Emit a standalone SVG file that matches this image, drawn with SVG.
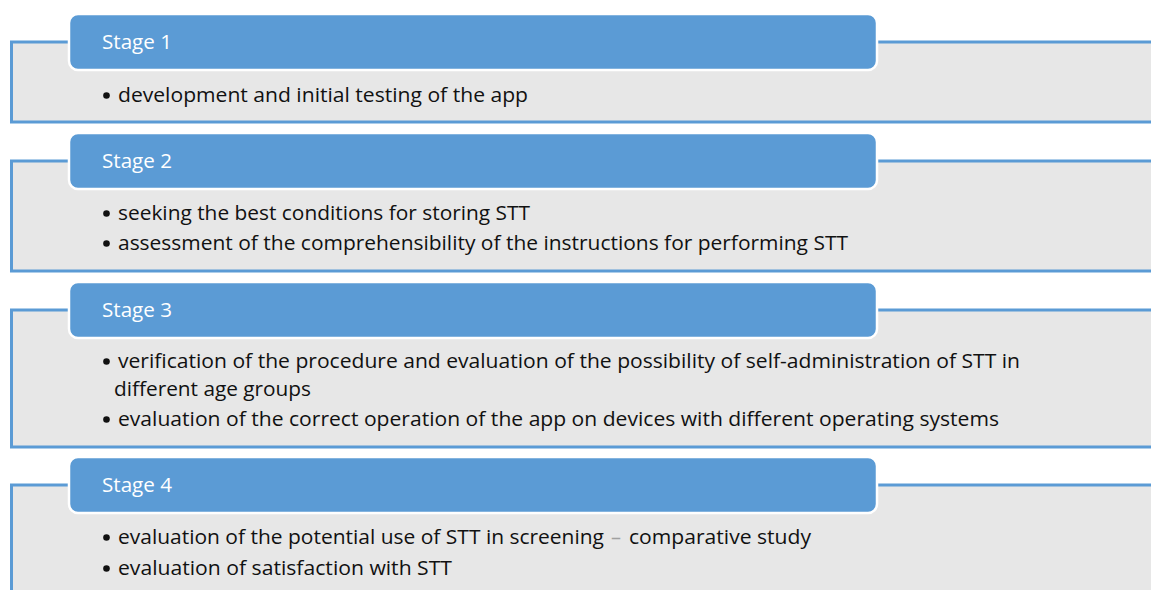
<svg xmlns="http://www.w3.org/2000/svg" width="1151" height="590" viewBox="0 0 1151 590">
<style>
.box{fill:#E7E7E7;stroke:#5B9BD5;stroke-width:3}
.hdr{fill:#5B9BD5;stroke:#FFFFFF;stroke-width:2.5}
.ht{font-family:"Open Sans","Liberation Sans",sans-serif;font-size:20px;fill:#FFFFFF}
.bt{font-family:"Open Sans","Liberation Sans",sans-serif;font-size:20px;fill:#111111}
.bul{fill:#111111}
.dash{fill:#A0A0A0}
</style>
<rect width="1151" height="590" fill="#FFFFFF"/>
<g id="stage1">
<rect class="box" x="11.5" y="42" width="1150" height="80"/>
<rect class="hdr" x="69" y="14" width="808" height="56" rx="9"/>
<text class="ht" x="102" y="49" textLength="70" lengthAdjust="spacingAndGlyphs">Stage 1</text>
<circle class="bul" cx="106.5" cy="95.5" r="3.3"/>
<text class="bt" x="118" y="102" textLength="410" lengthAdjust="spacingAndGlyphs">development and initial testing of the app</text>
</g>
<g id="stage2">
<rect class="box" x="11.5" y="161" width="1150" height="110"/>
<rect class="hdr" x="69" y="133" width="808" height="56" rx="9"/>
<text class="ht" x="102" y="168" textLength="70" lengthAdjust="spacingAndGlyphs">Stage 2</text>
<circle class="bul" cx="106.5" cy="213.5" r="3.3"/>
<text class="bt" x="118" y="220" textLength="412" lengthAdjust="spacingAndGlyphs">seeking the best conditions for storing STT</text>
<circle class="bul" cx="106.5" cy="243.5" r="3.3"/>
<text class="bt" x="118" y="250" textLength="730" lengthAdjust="spacingAndGlyphs">assessment of the comprehensibility of the instructions for performing STT</text>
</g>
<g id="stage3">
<rect class="box" x="11.5" y="310" width="1150" height="137"/>
<rect class="hdr" x="69" y="282" width="808" height="56" rx="9"/>
<text class="ht" x="102" y="317" textLength="70" lengthAdjust="spacingAndGlyphs">Stage 3</text>
<circle class="bul" cx="106.5" cy="361.5" r="3.3"/>
<text class="bt" x="118" y="368" textLength="902" lengthAdjust="spacingAndGlyphs">verification of the procedure and evaluation of the possibility of self-administration of STT in</text>
<text class="bt" x="114" y="396" textLength="197" lengthAdjust="spacingAndGlyphs">different age groups</text>
<circle class="bul" cx="106.5" cy="419.5" r="3.3"/>
<text class="bt" x="118" y="426" textLength="881" lengthAdjust="spacingAndGlyphs">evaluation of the correct operation of the app on devices with different operating systems</text>
</g>
<g id="stage4">
<rect class="box" x="11.5" y="485" width="1150" height="120"/>
<rect class="hdr" x="69" y="457" width="808" height="56" rx="9"/>
<text class="ht" x="102" y="492" textLength="70" lengthAdjust="spacingAndGlyphs">Stage 4</text>
<circle class="bul" cx="106.5" cy="537.5" r="3.3"/>
<text class="bt" x="118" y="544" textLength="486" lengthAdjust="spacingAndGlyphs">evaluation of the potential use of STT in screening</text>
<text class="bt dash" x="611" y="544">–</text>
<text class="bt" x="629" y="544" textLength="182" lengthAdjust="spacingAndGlyphs">comparative study</text>
<circle class="bul" cx="106.5" cy="568.5" r="3.3"/>
<text class="bt" x="118" y="575" textLength="334" lengthAdjust="spacingAndGlyphs">evaluation of satisfaction with STT</text>
</g>
<g id="connectors"></g>
</svg>
